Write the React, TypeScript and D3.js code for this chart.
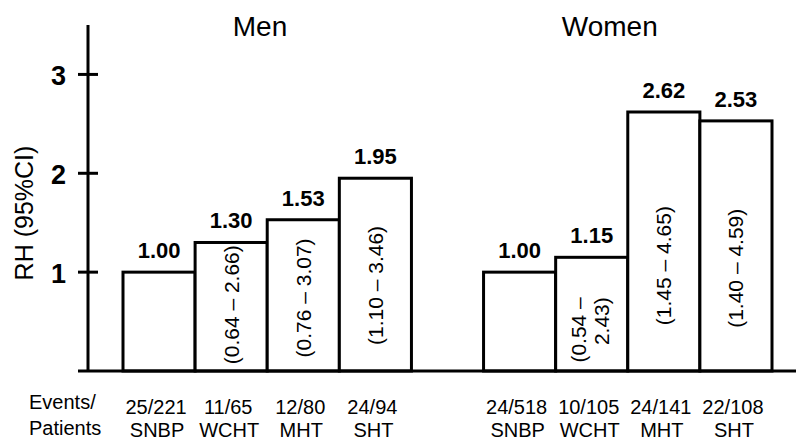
import React from "react";
import * as d3 from "d3";

const categories = ["SNBP", "WCHT", "MHT", "SHT"];
const menRH = [1.0, 1.3, 1.53, 1.95];
const womenRH = [1.0, 1.15, 2.62, 2.53];
const menCI = ["", "(0.64 – 2.66)", "(0.76 – 3.07)", "(1.10 – 3.46)"];
const womenCI = ["", "(0.54 –|2.43)", "(1.45 – 4.65)", "(1.40 – 4.59)"];
const menEvents = ["25/221", "11/65", "12/80", "24/94"];
const womenEvents = ["24/518", "10/105", "24/141", "22/108"];
const groupTitles = ["Men", "Women"];
const yTicks = [1, 2, 3];

const W = 796;
const H = 441;
const FONT = "'Liberation Sans', Arial, Helvetica, sans-serif";

type Bar = { key: string; cat: string; v: number; ci: string; ev: string; g: number };

const bars: Bar[] = [
  ...categories.map((c, i) => ({ key: "M-" + c, cat: c, v: menRH[i], ci: menCI[i], ev: menEvents[i], g: 0 })),
  ...categories.map((c, i) => ({ key: "W-" + c, cat: c, v: womenRH[i], ci: womenCI[i], ev: womenEvents[i], g: 1 })),
];

export default function App() {
  const x = d3
    .scaleBand<string>()
    .domain([...bars.slice(0, 4).map((b) => b.key), "gap", ...bars.slice(4).map((b) => b.key)])
    .range([123, 772])
    .padding(0);
  const y = d3.scaleLinear().domain([0, 3.5]).range([371, 25]);
  const bw = x.bandwidth();
  const y0 = y(0);
  const axisX = 88;
  const ciY = (top: number) => 232 + 0.3 * top;

  const titleX = [x("M-WCHT")! + bw * 0.9, x("W-WCHT")! + bw * 0.75];

  return (
    <svg
      width={W}
      height={H}
      style={{ position: "absolute", left: 0, top: 0, background: "#fff" }}
      fontFamily={FONT}
    >
      <rect x={0} y={0} width={W} height={H} fill="#fff" />
      {/* titles */}
      {groupTitles.map((t, i) => (
        <text key={t} x={titleX[i]} y={36} textAnchor="middle" fontSize={28}>
          {t}
        </text>
      ))}
      {/* y label */}
      <text transform={`translate(33,213) rotate(-90)`} textAnchor="middle" fontSize={25}>
        RH (95%CI)
      </text>
      {/* bars */}
      {bars.map((b) => {
        const bx = x(b.key)!;
        const top = y(b.v);
        return (
          <rect
            key={b.key}
            x={bx}
            y={top}
            width={bw}
            height={y0 - top}
            fill="#fff"
            stroke="#000"
            strokeWidth={3}
          />
        );
      })}
      {/* value labels */}
      {bars.map((b) => (
        <text
          key={"v" + b.key}
          x={x(b.key)! + bw / 2}
          y={y(b.v) - 14}
          textAnchor="middle"
          fontSize={22}
          fontWeight="bold"
        >
          {b.v.toFixed(2)}
        </text>
      ))}
      {/* CI labels */}
      {bars.map((b) => {
        if (!b.ci) return null;
        const cx = x(b.key)! + bw / 2;
        const top = y(b.v);
        const lines = b.ci.split("|");
        if (lines.length === 1) {
          return (
            <text
              key={"c" + b.key}
              transform={`translate(${cx},${ciY(top)}) rotate(-90)`}
              textAnchor="middle"
              dy="0.35em"
              fontSize={21}
            >
              {lines[0]}
            </text>
          );
        }
        const spacing = 23;
        return lines.map((ln, i) => (
          <text
            key={"c" + b.key + i}
            transform={`translate(${cx - 2 + (i - (lines.length - 1) / 2) * spacing},${ciY(top) - 12}) rotate(-90)`}
            textAnchor="end"
            dy="0.35em"
            fontSize={21}
          >
            {ln}
          </text>
        ));
      })}
      {/* y axis */}
      <line x1={axisX} x2={axisX} y1={y(3.5)} y2={y0} stroke="#000" strokeWidth={3} />
      {yTicks.map((t) => (
        <g key={t}>
          <line x1={axisX - 10} x2={axisX + 10} y1={y(t)} y2={y(t)} stroke="#000" strokeWidth={3} />
          <text x={66} y={y(t) + 11} textAnchor="end" fontSize={27} fontWeight="bold">
            {t}
          </text>
        </g>
      ))}
      {/* baseline */}
      <line x1={axisX - 10} x2={W} y1={y0} y2={y0} stroke="#000" strokeWidth={3} />
      {/* bottom labels */}
      <text x={29} y={409} fontSize={20}>
        Events/
      </text>
      <text x={29} y={435} fontSize={20}>
        Patients
      </text>
      {bars.map((b) => (
        <g key={"b" + b.key}>
          <text x={x(b.key)! + bw / 2 - 3} y={414} textAnchor="middle" fontSize={20}>
            {b.ev}
          </text>
          <text x={x(b.key)! + bw / 2 - 2} y={437} textAnchor="middle" fontSize={20}>
            {b.cat}
          </text>
        </g>
      ))}
    </svg>
  );
}
